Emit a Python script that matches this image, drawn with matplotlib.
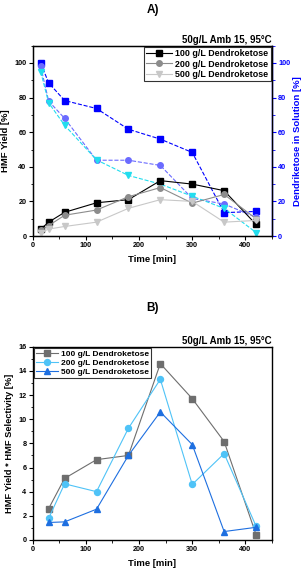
import matplotlib
matplotlib.use('Agg')
import matplotlib.pyplot as plt
from matplotlib.ticker import MultipleLocator

plt.rcParams['font.family'] = ['Liberation Sans', 'DejaVu Sans']
plt.rcParams['font.weight'] = 'bold'

# panel A data
time_a = [15, 30, 60, 120, 180, 240, 300, 360, 420]
yield_100 = [4, 8, 13.7, 19.2, 21, 32, 30, 26.2, 6.7]
yield_200 = [3.5, 6, 12, 15, 22.7, 28, 19, 24, 10]
yield_500 = [2, 4, 5.5, 8, 16, 21, 20, 8, 9]
dendro_100 = [100, 88.5, 78.3, 73.7, 61.7, 56, 48.3, 13.5, 14.2]
dendro_200 = [98, 78, 68, 43.8, 43.8, 40.8, 21.7, 18.5, 10.8]
dendro_500 = [95, 77, 64, 44, 35, 30, 23, 16, 2]

# panel B data
time_b = [30, 60, 120, 180, 240, 300, 360, 420]
sel_100 = [2.6, 5.1, 6.65, 7.0, 14.6, 11.7, 8.15, 0.45]
sel_200 = [1.8, 4.65, 4.0, 9.25, 13.3, 4.6, 7.15, 1.15]
sel_500 = [1.45, 1.5, 2.55, 7.0, 10.6, 7.9, 0.7, 1.05]

labels = ['100 g/L Dendroketose', '200 g/L Dendroketose', '500 g/L Dendroketose']
cond = '50g/L Amb 15, 95°C'

fig = plt.figure(figsize=(3.05, 5.73), dpi=100)
W, H = 305, 573
axA = fig.add_axes([32.7 / W, 1 - 236 / H, (272 - 32.7) / W, (236 - 45.7) / H])
axB = fig.add_axes([32.7 / W, 1 - 540 / H, (272 - 32.7) / W, (540 - 346.7) / H])


def style(ax):
    ax.tick_params(axis='both', which='major', direction='out', length=3, width=0.8,
                   labelsize=5.2, pad=1.5)
    ax.tick_params(axis='both', which='minor', direction='out', length=1.8, width=0.6)
    for s in ax.spines.values():
        s.set_linewidth(1.0)
    ax.set_xlim(0, 450)
    ax.xaxis.set_major_locator(MultipleLocator(100))
    ax.xaxis.set_minor_locator(MultipleLocator(50))
    ax.set_xlabel('Time [min]', fontsize=6.8, fontweight='bold', labelpad=4)


# ---- panel A
axA.plot(time_a, yield_100, '-s', color='black', ms=4, lw=0.8, label=labels[0])
axA.plot(time_a, yield_200, '-o', color='#8c8c8c', ms=4, lw=0.8, label=labels[1])
axA.plot(time_a, yield_500, '-v', color='#c8c8c8', ms=4, lw=0.8, label=labels[2])
axA.set_ylim(0, 110)
axA.yaxis.set_major_locator(MultipleLocator(20))
axA.yaxis.set_minor_locator(MultipleLocator(10))
axA.set_ylabel('HMF Yield [%]', fontsize=6.8, fontweight='bold', labelpad=3)
style(axA)

axA2 = axA.twinx()
axA2.plot(time_a, dendro_100, '--s', color='#0000ff', ms=4, lw=0.8)
axA2.plot(time_a, dendro_200, '--o', color='#6b6bff', ms=4, lw=0.8)
axA2.plot(time_a, dendro_500, '--v', color='#22ddee', ms=4, lw=0.8)
axA2.set_ylim(0, 110)
axA2.yaxis.set_major_locator(MultipleLocator(20))
axA2.yaxis.set_minor_locator(MultipleLocator(10))
axA2.tick_params(axis='y', which='major', direction='out', length=3, width=0.8,
                 labelsize=5.2, pad=1.5, colors='#0000ff')
axA2.tick_params(axis='y', which='minor', direction='out', length=1.8, width=0.6,
                 colors='#0000ff')
axA2.spines['right'].set_color('#0000ff')
axA2.spines['right'].set_linewidth(1.0)
axA2.set_ylabel('Dendriketose in Solution [%]', fontsize=6.8, fontweight='bold',
                color='#0000ff', labelpad=2)

legA = axA.legend(loc='upper right', fontsize=6.4, frameon=True, fancybox=False,
                  edgecolor='black', handlelength=2.9, borderpad=0.25, labelspacing=0.15,
                  handletextpad=0.4, borderaxespad=0.15)
legA.get_frame().set_linewidth(0.8)
legA.set_zorder(5)
axA.set_zorder(axA2.get_zorder() + 1)
axA.patch.set_visible(False)
axA.set_title(cond, loc='right', fontsize=7, fontweight='bold', pad=2)
fig.text(0.5, 1 - 10 / H, 'A)', ha='center', va='center', fontsize=8.5, fontweight='bold')

# ---- panel B
axB.plot(time_b, sel_100, '-s', color='#6e6e6e', ms=4, lw=0.8, label=labels[0])
axB.plot(time_b, sel_200, '-o', color='#4fc3f7', ms=4.3, lw=0.8, label=labels[1])
axB.plot(time_b, sel_500, '-^', color='#1e6fe0', ms=4.3, lw=0.8, label=labels[2])
axB.set_ylim(0, 16)
axB.yaxis.set_major_locator(MultipleLocator(2))
axB.yaxis.set_minor_locator(MultipleLocator(1))
axB.set_ylabel('HMF Yield * HMF Selectivity [%]', fontsize=6.7, fontweight='bold',
               labelpad=3)
style(axB)
axB.tick_params(right=False, top=False, which='both')
legB = axB.legend(loc='upper left', fontsize=6.0, frameon=True, fancybox=False,
                  edgecolor='black', handlelength=2.6, borderpad=0.25, labelspacing=0.12,
                  handletextpad=0.4, borderaxespad=0.15)
legB.get_frame().set_linewidth(0.8)
axB.set_title(cond, loc='right', fontsize=7, fontweight='bold', pad=2)
fig.text(0.5, 1 - 308 / H, 'B)', ha='center', va='center', fontsize=8.5, fontweight='bold')

fig.savefig('out.png', dpi=100)
